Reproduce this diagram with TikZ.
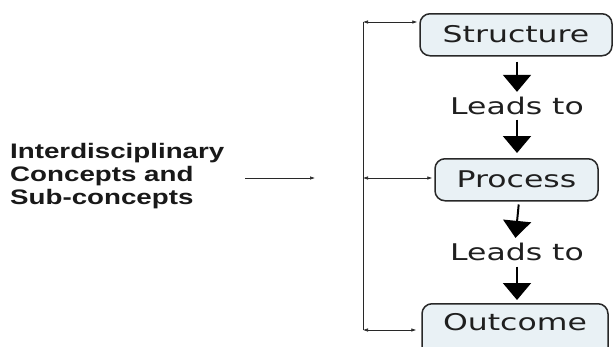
\documentclass[tikz,border=0pt]{standalone}
\usepackage{fontspec}
\usetikzlibrary{arrows.meta,calc}
\newfontfamily\boxfont[FakeStretch=1.37]{DejaVu Sans}
\newfontfamily\leftfont[FakeStretch=1.32]{Liberation Sans}
\definecolor{boxfill}{RGB}{233,241,245}
\definecolor{edge}{RGB}{40,40,40}
\tikzset{
  stagebox/.style={draw=edge, line width=1.5pt, fill=boxfill, rounded corners=10pt,
    inner ysep=0pt, inner xsep=0pt, text height=29pt, text depth=13pt,
    font=\boxfont\fontsize{23}{27}\selectfont, text=black!88},
  leadtxt/.style={inner sep=0pt, anchor=base, font=\boxfont\fontsize{23}{27}\selectfont, text=black!88},
  bigarrow/.style={line width=2pt, -{Triangle[width=28pt,length=17pt]}, black},
  thinarrow/.style={line width=0.6pt, edge, {Latex[length=5pt,width=3.5pt]}-{Latex[length=5pt,width=3.5pt]}},
  onearrow/.style={line width=0.6pt, edge, -{Latex[length=5pt,width=3.5pt]}}
}
\begin{document}
\begin{tikzpicture}[x=1pt,y=-1pt]
\fill[white] (0,0) rectangle (613,346);
\clip (0,0) rectangle (613,346);
% boxes
\node[stagebox, minimum width=192pt, anchor=north] (s) at (516,13) {Structure};
\node[stagebox, minimum width=163pt, anchor=north] (p) at (516.5,158) {Process};
\node[stagebox, minimum width=186pt, anchor=north, text height=27pt, text depth=33pt] (o) at (515,303) {Outcome};
% leads to
\node[leadtxt] (l1) at (517,114) {Leads to};
\node[leadtxt] (l2) at (517,260) {Leads to};
% big arrows
\draw[bigarrow, shorten <=5pt, shorten >=4.5pt] ([xshift=1pt]s.south) -- (l1.north);
\draw[bigarrow, shorten <=5pt, shorten >=5pt] (l1.south) -- ([xshift=0.5pt]p.north);
\draw[bigarrow, shorten <=3pt, shorten >=4.5pt] ([xshift=2.5pt]p.south) -- ([xshift=-2pt]l2.north);
\draw[bigarrow, shorten <=6pt, shorten >=3pt] (l2.south) -- ([xshift=2pt]o.north);
% bracket
\coordinate (vt) at (363,22);
\coordinate (vm) at (363,178);
\coordinate (vb) at (363,330);
\draw[line width=0.6pt, edge] (vt) -- (vb);
\draw[thinarrow, shorten >=2pt] (vt) -- (vt -| s.west);
\draw[thinarrow, shorten >=2pt] (vm) -- (vm -| p.west);
\draw[thinarrow, shorten >=5pt] (vb) -- (vb -| o.west);
% left text
\node[anchor=west, align=left, inner sep=0pt, font=\leftfont\bfseries\fontsize{21}{23}\selectfont, text=black!90] (lt) at (10,176)
  {Interdisciplinary\\Concepts and\\Sub-concepts};
\coordinate (a0) at (245,178);
\coordinate (a1) at (315,178);
\draw[onearrow] (a0) -- (a1);
\end{tikzpicture}
\end{document}
